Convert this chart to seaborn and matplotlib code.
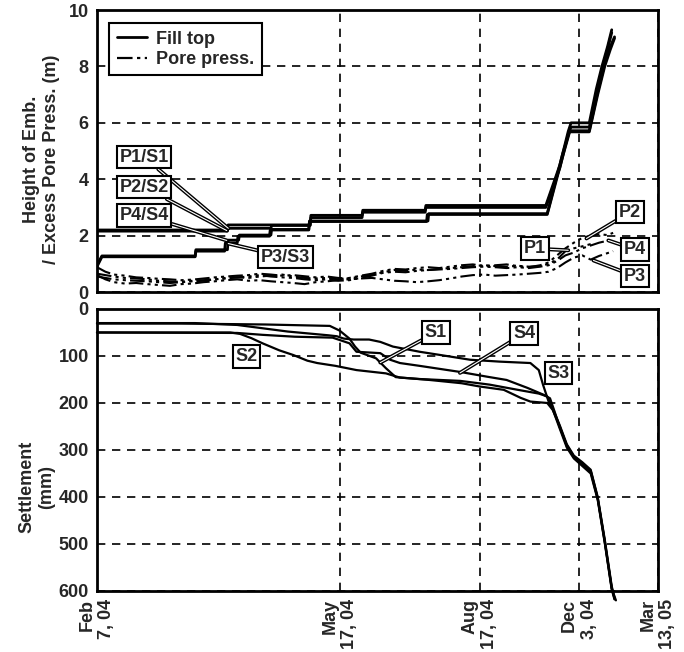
import numpy as np
import pandas as pd
import seaborn as sns
from matplotlib import pyplot as plt
from matplotlib import patheffects as pe

# elapsed-day axis, tick positions as placed on the original chart
tick_days = [0, 173, 273, 344, 400]
tick_labels = ['Feb\n7, 04', 'May\n17, 04', 'Aug\n17, 04', 'Dec\n3, 04', 'Mar\n13, 05']

# fill top (m)
fill_p1_days = [0, 93, 93.5, 152, 152.5, 189, 189.5, 234, 234.5, 320, 330, 336, 338, 351, 356, 360, 364, 367]
fill_p1_vals = [2.2, 2.2, 2.38, 2.38, 2.72, 2.72, 2.9, 2.9, 3.07, 3.07, 4.5, 5.7, 6.0, 6.0, 7.2, 8.0, 8.7, 9.3]
fill_p2_days = [0, 93, 93.5, 124, 124.5, 152, 152.5, 189, 189.5, 234, 234.5, 320, 330, 336, 338, 351, 356, 360, 364, 367]
fill_p2_vals = [2.16, 2.16, 2.26, 2.26, 2.36, 2.36, 2.64, 2.64, 2.83, 2.83, 3.0, 3.0, 4.4, 5.6, 5.85, 5.85, 7.0, 7.9, 8.6, 9.2]
fill_p3_days = [0, 3.5, 70, 70.5, 91, 91.5, 100, 100.5, 123, 123.5, 151, 151.5, 235, 235.5, 321, 332, 337, 351, 357, 362, 366, 369]
fill_p3_vals = [0.9, 1.25, 1.25, 1.45, 1.45, 1.74, 1.74, 1.98, 1.98, 2.2, 2.2, 2.5, 2.5, 2.75, 2.75, 4.8, 5.68, 5.68, 7.0, 8.0, 8.6, 9.0]
fill_p4_days = [0, 3.5, 70, 70.5, 93, 93.5, 101, 101.5, 124, 124.5, 151, 151.5, 236, 236.5, 321, 332, 337, 351, 357, 362, 366, 369]
fill_p4_vals = [0.95, 1.28, 1.28, 1.5, 1.5, 1.84, 1.84, 2.02, 2.02, 2.22, 2.22, 2.52, 2.52, 2.78, 2.78, 4.9, 5.72, 5.72, 7.1, 8.1, 8.7, 9.05]

# excess pore pressure (m)
pore_days = [0, 6, 12, 20, 28, 36, 44, 52, 60, 68, 76, 84, 92, 100, 108, 116, 124, 132, 140, 148,
             156, 164, 172, 180, 188, 196, 204, 212, 220, 228, 236, 244, 252, 260, 268, 276, 284, 292, 300, 308,
             316, 322, 328, 334, 340, 346, 352, 358, 364, 368]
pore_p1 = [0.88, 0.72, 0.62, 0.58, 0.52, 0.50, 0.47, 0.45, 0.42, 0.44, 0.48, 0.52, 0.55, 0.58, 0.60, 0.65, 0.62, 0.58, 0.60, 0.56,
           0.52, 0.55, 0.50, 0.48, 0.55, 0.62, 0.70, 0.78, 0.75, 0.80, 0.78, 0.82, 0.85, 0.88, 0.92, 0.95, 0.92, 0.90, 0.93, 0.90,
           0.92, 1.00, 1.15, 1.45, 1.55, 1.62, 1.70]
pore_p2 = [0.65, 0.60, 0.55, 0.50, 0.48, 0.45, 0.40, 0.38, 0.36, 0.40, 0.42, 0.45, 0.50, 0.52, 0.50, 0.55, 0.58, 0.62, 0.55, 0.50,
           0.48, 0.50, 0.45, 0.50, 0.58, 0.65, 0.75, 0.82, 0.80, 0.85, 0.88, 0.85, 0.90, 0.95, 0.98, 0.92, 0.95, 0.98, 0.92, 0.88,
           0.95, 1.05, 1.30, 1.55, 1.75, 1.92, 2.00, 2.05, 2.02, 2.10]
pore_p3 = [0.60, 0.45, 0.35, 0.30, 0.32, 0.28, 0.25, 0.22, 0.28, 0.30, 0.35, 0.38, 0.42, 0.45, 0.40, 0.42, 0.38, 0.35, 0.32, 0.28,
           0.35, 0.38, 0.42, 0.45, 0.48, 0.50, 0.45, 0.40, 0.38, 0.35, 0.38, 0.42, 0.48, 0.55, 0.60, 0.62, 0.58, 0.60, 0.62, 0.65,
           0.68, 0.72, 0.85, 1.05, 1.22, 1.30, 1.15, 1.28, 1.38, 1.45]
pore_p4 = [0.55, 0.50, 0.45, 0.42, 0.40, 0.38, 0.35, 0.32, 0.35, 0.38, 0.40, 0.45, 0.48, 0.52, 0.55, 0.60, 0.55, 0.52, 0.50, 0.45,
           0.42, 0.45, 0.40, 0.42, 0.50, 0.58, 0.68, 0.72, 0.70, 0.75, 0.78, 0.80, 0.82, 0.85, 0.88, 0.90, 0.88, 0.85, 0.88, 0.85,
           0.90, 0.95, 1.10, 1.30, 1.40, 1.55, 1.65, 1.75, 1.82]

# settlement (mm)
s1_days = [0, 60, 120, 166, 173, 180, 184, 188, 199, 206, 213, 237, 260, 273, 290, 302, 309, 321, 325, 330, 335, 340, 346, 352, 357, 362, 367, 370]
s1_mm = [31, 31, 33, 36, 46, 63, 80, 93, 105, 126, 145, 151, 158, 165, 172, 189, 197, 200, 215, 250, 292, 315, 330, 346, 404, 495, 595, 620]
s2_days = [0, 95, 102, 110, 118, 130, 140, 150, 157, 170, 185, 206, 216, 230, 259, 280, 300, 315, 321, 325, 330, 335, 340, 346, 352, 357, 362, 367, 369]
s2_mm = [50, 50, 53, 62, 73, 88, 98, 110, 115, 121, 130, 137, 146, 149, 153, 161, 172, 180, 186, 212, 248, 288, 312, 326, 342, 400, 490, 590, 615]
s3_days = [0, 70, 100, 136, 165, 171, 176, 183, 194, 202, 211, 230, 245, 266, 287, 309, 315, 318, 322, 325, 330, 335, 340, 346, 352, 357, 362, 367, 369]
s3_mm = [30, 30, 34, 48, 56, 58, 63, 65, 65, 70, 80, 91, 98, 108, 112, 115, 130, 161, 197, 214, 255, 295, 318, 334, 350, 406, 497, 597, 618]
s4_days = [0, 100, 118, 141, 168, 180, 185, 202, 209, 216, 230, 259, 278, 292, 307, 318, 323, 326, 330, 335, 340, 346, 352, 357, 362, 367, 369]
s4_mm = [50, 51, 55, 59, 61, 73, 91, 94, 108, 115, 121, 134, 144, 151, 168, 182, 190, 216, 252, 290, 314, 328, 344, 402, 493, 593, 617]

sns.set_style('white')
plt.rcParams['font.family'] = ['Liberation Sans', 'DejaVu Sans']
plt.rcParams['font.weight'] = 'bold'
plt.rcParams['axes.labelweight'] = 'bold'

fig = plt.figure(figsize=(6.84, 6.52), dpi=100)
ax_top = fig.add_axes([0.1418, 0.5521, 0.8202, 0.4325])
ax_bot = fig.add_axes([0.1418, 0.0936, 0.8202, 0.4325])

grid_kws = dict(color='black', lw=1.2, ls=(0, (5, 4)))
pore_ls = (0, (7, 2, 1.5, 2, 1.5, 2))
box_kws = dict(boxstyle='square,pad=0.15', fc='white', ec='black', lw=1.5)
arrow_kws = dict(arrowstyle='-', color='white', lw=0.8, shrinkA=0, shrinkB=0,
                 path_effects=[pe.Stroke(linewidth=2.8, foreground='black'), pe.Normal()])

for days, vals in [(fill_p1_days, fill_p1_vals), (fill_p2_days, fill_p2_vals),
                   (fill_p3_days, fill_p3_vals), (fill_p4_days, fill_p4_vals)]:
    sns.lineplot(x=days, y=vals, ax=ax_top, color='black', lw=2.0, estimator=None, sort=False)

for vals in [pore_p1, pore_p2, pore_p3, pore_p4]:
    sns.lineplot(x=pore_days[:len(vals)], y=vals, ax=ax_top, color='black', lw=1.5,
                 linestyle=pore_ls, estimator=None, sort=False)

for days, vals in [(s1_days, s1_mm), (s2_days, s2_mm), (s3_days, s3_mm), (s4_days, s4_mm)]:
    sns.lineplot(x=days, y=vals, ax=ax_bot, color='black', lw=1.6, estimator=None, sort=False, clip_on=False)

# legend
handles = [plt.Line2D([], [], color='black', lw=2.0),
           plt.Line2D([], [], color='black', lw=1.6, ls=pore_ls)]
leg = ax_top.legend(handles, ['Fill top', 'Pore press.'], loc='upper left', bbox_to_anchor=(0.006, 0.985),
                    fontsize=13, handlelength=1.7, handletextpad=0.5, borderpad=0.4, labelspacing=0.2,
                    fancybox=False, framealpha=1, edgecolor='black')
leg.get_frame().set_linewidth(1.5)

# point labels in the top panel
top_notes = [('P1/S1', (33.6, 4.78), (93.6, 2.26)),
             ('P2/S2', (33.6, 3.72), (92.5, 2.18)),
             ('P4/S4', (33.6, 2.71), (92.5, 1.83)),
             ('P3/S3', (134.6, 1.24), (93.6, 1.72)),
             ('P1', (312.3, 1.54), (336, 1.48)),
             ('P2', (380, 2.83), (349, 1.9)),
             ('P4', (383.6, 1.51), (364.6, 1.83)),
             ('P3', (383.6, 0.56), (354, 1.12))]
for text, xy_text, xy in top_notes:
    ax_top.annotate(text, xy=xy, xytext=xy_text, ha='center', va='center', fontsize=13,
                    fontweight='bold', bbox=box_kws, arrowprops=arrow_kws, zorder=5)

bot_notes = [('S1', (241.6, 50), (202, 114)),
             ('S4', (304.6, 52), (258.8, 136))]
for text, xy_text, xy in bot_notes:
    ax_bot.annotate(text, xy=xy, xytext=xy_text, ha='center', va='center', fontsize=13,
                    fontweight='bold', bbox=box_kws, arrowprops=arrow_kws, zorder=5)
ax_bot.text(106.7, 101.5, 'S2', ha='center', va='center', fontsize=13, fontweight='bold', bbox=box_kws, zorder=5)
ax_bot.text(328.9, 136.6, 'S3', ha='center', va='center', fontsize=13, fontweight='bold', bbox=box_kws, zorder=5)

ax_top.set_xlim(0, 400)
ax_top.set_ylim(0, 10)
ax_top.set_yticks([0, 2, 4, 6, 8, 10])
ax_top.set_xticks(tick_days)
ax_top.set_xticklabels([])
ax_top.set_ylabel('Height of Emb.\n/ Excess Pore Press. (m)', fontsize=13, fontweight='bold')
ax_top.yaxis.set_label_coords(-0.066, 0.47)

ax_bot.set_xlim(0, 400)
ax_bot.set_ylim(600, 0)
ax_bot.set_yticks(range(0, 700, 100))
ax_bot.set_xticks(tick_days)
ax_bot.set_xticklabels(tick_labels, rotation=90, fontsize=13, fontweight='bold')
for lab in ax_bot.get_xticklabels():
    lab.set_multialignment('right')
ax_bot.set_ylabel('Settlement\n(mm)', fontsize=13, fontweight='bold')
ax_bot.yaxis.set_label_coords(-0.075, 0.37)

for ax in (ax_top, ax_bot):
    ax.grid(True, **grid_kws)
    ax.set_axisbelow(True)
    ax.set_xlabel('')
    ax.tick_params(axis='both', length=0, pad=6, labelsize=13)
    for lab in ax.get_yticklabels():
        lab.set_fontweight('bold')
    for sp in ax.spines.values():
        sp.set_linewidth(2.0)
        sp.set_color('black')
        sp.set_zorder(4)

fig.savefig('out.png', dpi=100)
